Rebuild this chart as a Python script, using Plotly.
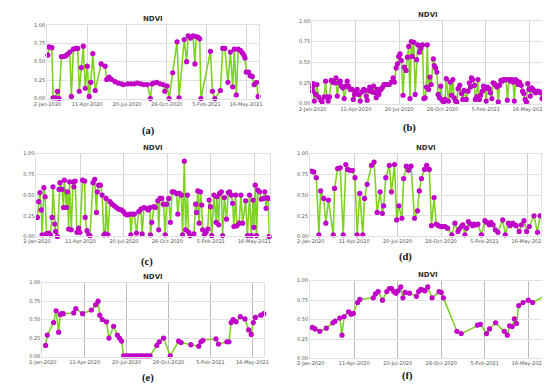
import pandas as pd
import plotly.graph_objects as go

START = "2020-01-02"
TICK_DATES = ["2020-01-02", "2020-04-11", "2020-07-20", "2020-10-28", "2021-02-05", "2021-05-16"]
TICK_TEXT = ["2-Jan-2020", "11-Apr-2020", "20-Jul-2020", "28-Oct-2020", "5-Feb-2021", "16-May-2021"]
Y_TICKS = [0, 0.25, 0.5, 0.75, 1.0]
PANEL_LABELS = ["(a)", "(b)", "(c)", "(d)", "(e)", "(f)"]
TITLE = "NDVI"

# day offsets from 2-Jan-2020 and NDVI values for each panel
a_days = [1, 4, 11, 14, 20, 25, 29, 35, 41, 46, 50, 56, 60, 65, 71, 76, 80, 85, 90, 95, 100, 105, 109, 114, 120,
          135, 145, 149, 155, 161, 170, 178, 186, 191, 202, 210, 218, 226, 234, 242, 251, 259, 263, 267, 275, 283,
          291, 295, 301, 306, 315, 326, 331, 344, 350, 354, 360, 366, 371, 374, 379, 383, 386, 410, 415, 421, 435,
          441, 446, 454, 460, 466, 470, 475, 480, 486, 490, 494, 497, 500, 506, 510, 515, 520, 526, 530]
a_vals = [0.59, 0.70, 0.69, 0.01, 0.01, 0.10, 0.00, 0.57, 0.57, 0.58, 0.60, 0.63, 0.03, 0.67, 0.68, 0.68, 0.10,
          0.42, 0.71, 0.14, 0.44, 0.03, 0.22, 0.61, 0.11, 0.47, 0.44, 0.26, 0.29, 0.26, 0.23, 0.21, 0.20, 0.19,
          0.20, 0.20, 0.20, 0.21, 0.20, 0.19, 0.19, 0.00, 0.20, 0.21, 0.22, 0.20, 0.19, 0.10, 0.17, 0.00, 0.35,
          0.77, 0.01, 0.80, 0.50, 0.85, 0.82, 0.85, 0.47, 0.84, 0.83, 0.81, 0.00, 0.64, 0.10, 0.00, 0.11, 0.68,
          0.68, 0.22, 0.63, 0.16, 0.67, 0.05, 0.67, 0.65, 0.62, 0.59, 0.55, 0.36, 0.36, 0.31, 0.30, 0.19, 0.22, 0.03]

b_days = [0, 0, 1, 4, 7, 10, 14, 19, 22, 27, 30, 33, 36, 39, 43, 47, 51, 54, 57, 61, 64, 67, 70, 73, 77, 80, 83,
          87, 91, 94, 97, 100, 103, 107, 110, 114, 118, 121, 124, 126, 129, 132, 135, 138, 141, 144, 147, 150, 153,
          156, 159, 162, 165, 169, 173, 177, 182, 186, 189, 193, 196, 199, 202, 205, 209, 212, 216, 219, 222, 225,
          228, 230, 234, 237, 240, 243, 247, 250, 254, 257, 260, 263, 265, 268, 271, 274, 279, 281, 284, 287, 290,
          293, 296, 299, 303, 306, 309, 314, 318, 321, 324, 327, 330, 333, 336, 340, 344, 347, 350, 355, 359, 362,
          365, 367, 370, 374, 376, 379, 382, 385, 388, 392, 395, 398, 401, 404, 408, 411, 414, 417, 420, 423, 426,
          429, 432, 435, 438, 441, 444, 447, 450, 454, 457, 460, 463, 466, 469, 472, 475, 478, 482, 485, 488, 491,
          494, 497, 500, 503, 506, 509, 512, 515, 518, 521, 524, 527, 530, 533]
b_vals = [0.15, 0.20, 0.24, 0.03, 0.11, 0.23, 0.08, 0.04, 0.02, 0.08, 0.27, 0.08, 0.03, 0.08, 0.28, 0.26, 0.25,
          0.31, 0.09, 0.25, 0.27, 0.21, 0.19, 0.06, 0.21, 0.27, 0.21, 0.17, 0.17, 0.05, 0.11, 0.15, 0.17, 0.11,
          0.03, 0.14, 0.17, 0.16, 0.09, 0.04, 0.16, 0.20, 0.15, 0.14, 0.21, 0.13, 0.07, 0.17, 0.11, 0.16, 0.18,
          0.20, 0.23, 0.23, 0.23, 0.23, 0.26, 0.31, 0.26, 0.43, 0.48, 0.57, 0.60, 0.52, 0.10, 0.44, 0.40, 0.56,
          0.69, 0.06, 0.75, 0.57, 0.74, 0.11, 0.53, 0.71, 0.62, 0.67, 0.71, 0.06, 0.07, 0.20, 0.71, 0.17, 0.32,
          0.23, 0.54, 0.46, 0.43, 0.38, 0.11, 0.07, 0.21, 0.04, 0.02, 0.05, 0.30, 0.03, 0.26, 0.10, 0.29, 0.07,
          0.03, 0.02, 0.18, 0.22, 0.12, 0.05, 0.16, 0.05, 0.15, 0.25, 0.20, 0.31, 0.29, 0.22, 0.05, 0.08, 0.29,
          0.05, 0.10, 0.15, 0.21, 0.18, 0.03, 0.20, 0.18, 0.13, 0.06, 0.25, 0.24, 0.22, 0.20, 0.02, 0.22, 0.28,
          0.27, 0.29, 0.29, 0.29, 0.04, 0.29, 0.27, 0.29, 0.26, 0.03, 0.29, 0.27, 0.23, 0.26, 0.22, 0.15, 0.12,
          0.05, 0.02, 0.24, 0.17, 0.09, 0.19, 0.17, 0.15, 0.13, 0.14, 0.15, 0.14, 0.13, 0.06, 0.13]

c_days = [1, 4, 7, 10, 12, 16, 19, 22, 27, 31, 35, 37, 41, 43, 47, 51, 53, 58, 61, 63, 68, 70, 73, 75, 79, 83, 85,
          88, 92, 96, 99, 105, 110, 111, 115, 119, 122, 129, 133, 137, 139, 142, 146, 150, 154, 157, 159, 163, 168,
          173, 178, 183, 188, 194, 199, 203, 208, 214, 216, 220, 224, 229, 234, 239, 242, 246, 252, 256, 260, 261,
          264, 269, 272, 278, 280, 283, 287, 291, 295, 298, 303, 307, 311, 315, 321, 324, 328, 332, 335, 339, 342,
          346, 349, 352, 361, 365, 367, 370, 373, 376, 379, 381, 385, 389, 393, 396, 399, 402, 407, 412, 414, 418,
          420, 424, 427, 431, 436, 440, 443, 447, 450, 453, 457, 460, 465, 469, 473, 480, 484, 489, 493, 497, 499,
          502, 505, 508, 512, 516, 521, 524, 527, 529, 532, 534]
c_vals = [0.23, 0.42, 0.53, 0.32, 0.02, 0.59, 0.48, 0.03, 0.04, 0.02, 0.23, 0.60, 0.15, 0.06, 0.00, 0.57, 0.65,
          0.57, 0.35, 0.68, 0.35, 0.54, 0.09, 0.66, 0.08, 0.66, 0.60, 0.67, 0.05, 0.10, 0.05, 0.68, 0.67, 0.23,
          0.07, 0.02, 0.01, 0.65, 0.69, 0.29, 0.54, 0.62, 0.62, 0.50, 0.02, 0.03, 0.46, 0.02, 0.42, 0.39, 0.37,
          0.35, 0.33, 0.32, 0.30, 0.27, 0.26, 0.27, 0.02, 0.27, 0.27, 0.04, 0.30, 0.33, 0.03, 0.35, 0.34, 0.32,
          0.35, 0.02, 0.17, 0.36, 0.35, 0.43, 0.08, 0.46, 0.46, 0.39, 0.02, 0.39, 0.46, 0.17, 0.54, 0.54, 0.52,
          0.27, 0.52, 0.50, 0.02, 0.91, 0.08, 0.50, 0.05, 0.01, 0.03, 0.39, 0.29, 0.55, 0.16, 0.54, 0.38, 0.08,
          0.02, 0.05, 0.09, 0.44, 0.36, 0.01, 0.50, 0.17, 0.48, 0.14, 0.52, 0.54, 0.01, 0.47, 0.21, 0.53, 0.54,
          0.50, 0.40, 0.12, 0.50, 0.13, 0.16, 0.50, 0.16, 0.43, 0.01, 0.50, 0.01, 0.44, 0.11, 0.62, 0.01, 0.56,
          0.54, 0.45, 0.46, 0.54, 0.34, 0.47, 0.46, 0.00]

d_days = [2, 7, 13, 19, 23, 30, 35, 41, 52, 55, 62, 68, 75, 81, 85, 90, 96, 102, 107, 113, 120, 124, 130, 140, 146,
          153, 160, 165, 168, 173, 181, 186, 193, 198, 203, 210, 214, 220, 225, 231, 239, 246, 250, 255, 262, 267,
          273, 278, 284, 289, 294, 300, 305, 309, 315, 325, 332, 339, 342, 347, 350, 355, 359, 363, 368, 373, 376,
          381, 385, 393, 401, 405, 411, 415, 420, 425, 431, 442, 448, 455, 459, 465, 470, 473, 480, 485, 491, 497,
          503, 514, 522, 528]
d_vals = [0.79, 0.78, 0.71, 0.02, 0.55, 0.46, 0.16, 0.44, 0.02, 0.58, 0.82, 0.83, 0.02, 0.87, 0.81, 0.80, 0.80,
          0.71, 0.02, 0.52, 0.02, 0.46, 0.63, 0.86, 0.90, 0.29, 0.54, 0.28, 0.37, 0.71, 0.86, 0.54, 0.87, 0.20,
          0.37, 0.22, 0.70, 0.85, 0.80, 0.85, 0.22, 0.31, 0.55, 0.70, 0.81, 0.86, 0.81, 0.13, 0.47, 0.15, 0.13,
          0.12, 0.12, 0.12, 0.10, 0.02, 0.16, 0.06, 0.09, 0.12, 0.14, 0.02, 0.10, 0.18, 0.15, 0.13, 0.15, 0.14,
          0.15, 0.02, 0.19, 0.17, 0.14, 0.17, 0.14, 0.08, 0.05, 0.20, 0.02, 0.16, 0.13, 0.16, 0.14, 0.13, 0.06,
          0.14, 0.19, 0.06, 0.12, 0.25, 0.05, 0.25]

e_days = [7, 11, 26, 32, 38, 42, 45, 49, 74, 79, 95, 116, 126, 132, 136, 142, 152, 158, 169, 178, 183, 188, 193,
          199, 204, 210, 216, 222, 227, 233, 238, 245, 250, 256, 272, 278, 288, 304, 324, 330, 353, 372, 377, 382,
          413, 419, 439, 444, 449, 454, 461, 471, 482, 491, 497, 502, 507, 520, 527]
e_vals = [0.15, 0.29, 0.46, 0.62, 0.33, 0.57, 0.58, 0.58, 0.59, 0.65, 0.58, 0.63, 0.70, 0.75, 0.56, 0.50, 0.47,
          0.25, 0.41, 0.29, 0.25, 0.21, 0.01, 0.01, 0.01, 0.01, 0.01, 0.01, 0.01, 0.01, 0.01, 0.01, 0.01, 0.01,
          0.15, 0.20, 0.25, 0.01, 0.21, 0.19, 0.16, 0.14, 0.20, 0.22, 0.24, 0.17, 0.20, 0.20, 0.46, 0.50, 0.47,
          0.54, 0.51, 0.36, 0.30, 0.46, 0.53, 0.56, 0.58]

f_days = [4, 10, 21, 36, 51, 56, 67, 72, 77, 87, 93, 98, 108, 113, 144, 149, 155, 165, 175, 181, 186, 191, 196,
          201, 207, 212, 217, 227, 243, 248, 253, 258, 263, 269, 279, 295, 300, 305, 336, 346, 383, 390, 404, 411,
          425, 445, 452, 457, 463, 468, 473, 478, 488, 500, 510, 537]
f_vals = [0.40, 0.38, 0.35, 0.39, 0.46, 0.48, 0.52, 0.30, 0.54, 0.60, 0.57, 0.58, 0.72, 0.76, 0.78, 0.83, 0.86,
          0.75, 0.86, 0.90, 0.90, 0.86, 0.84, 0.87, 0.92, 0.78, 0.85, 0.84, 0.80, 0.86, 0.89, 0.88, 0.87, 0.92,
          0.78, 0.86, 0.85, 0.78, 0.35, 0.32, 0.43, 0.44, 0.32, 0.38, 0.46, 0.35, 0.30, 0.42, 0.41, 0.51, 0.45,
          0.68, 0.72, 0.75, 0.72, 0.80]

SERIES = [(a_days, a_vals), (b_days, b_vals), (c_days, c_vals), (d_days, d_vals), (e_days, e_vals), (f_days, f_vals)]

# layout (pixels in a 550x385 canvas): plot-area left, right, top, bottom
W, H = 550, 385
BOXES = [(27, 246, 14, 89), (301, 540, 10, 94), (16, 257, 145, 229),
         (299, 538, 145, 229), (22, 251, 276, 351), (299, 542, 274, 353)]
LABEL_POS = [(132, 122), (402, 119), (130, 255), (398, 250), (131, 373), (400, 371)]
RANGE_END = ["2021-06-17", "2021-06-18", "2021-06-20", "2021-06-16", "2021-06-12", "2021-06-24"]
VGRID = ["#d4d4d4", "#d4d4d4", "#d4d4d4", "#cfcfcf", "#bdbdbd", "#bdbdbd"]

GREEN = "#7ed321"
MAGENTA = "#c000c8"
HGRID = "#e2e2e2"

fig = go.Figure()
start = pd.Timestamp(START)
layout = dict(width=W, height=H, margin=dict(l=0, r=0, t=0, b=0),
              paper_bgcolor="white", plot_bgcolor="white", showlegend=False,
              font=dict(family="DejaVu Sans", color="#555"))
annotations = []
for i, ((days, vals), (l, r, t, b)) in enumerate(zip(SERIES, BOXES), start=1):
    dates = start + pd.to_timedelta(days, unit="D")
    fig.add_trace(go.Scatter(x=dates, y=vals, mode="lines+markers",
                             line=dict(color=GREEN, width=1.6),
                             marker=dict(color=MAGENTA, size=5.2),
                             xaxis=f"x{i}", yaxis=f"y{i}", cliponaxis=False))
    xd = [l / W, r / W]
    yd = [1 - b / H, 1 - t / H]
    layout[f"xaxis{i}"] = dict(domain=xd, anchor=f"y{i}", type="date",
                               range=["2020-01-01", RANGE_END[i - 1]],
                               tickvals=TICK_DATES, ticktext=TICK_TEXT,
                               tickfont=dict(size=5, color="#555"),
                               showgrid=True, gridcolor=VGRID[i - 1], gridwidth=1.2,
                               showline=True, linecolor="#e0e0e0", mirror=True,
                               zeroline=False, ticks="", ticklen=0)
    layout[f"yaxis{i}"] = dict(domain=yd, anchor=f"x{i}", range=[0, 1],
                               tickvals=Y_TICKS, tickformat=".2f",
                               tickfont=dict(size=5, color="#555"),
                               showgrid=True, gridcolor=HGRID, gridwidth=1,
                               showline=True, linecolor="#e0e0e0", mirror=True,
                               zeroline=False, ticks="")
    annotations.append(dict(text=f"<b>{TITLE}</b>", x=(l + r) / 2 / W, y=1 - t / H,
                            xref="paper", yref="paper", xanchor="center", yanchor="bottom",
                            showarrow=False, font=dict(size=7, color="#333", family="DejaVu Sans")))
    lx, ly = LABEL_POS[i - 1]
    annotations.append(dict(text=f"<b>{PANEL_LABELS[i - 1]}</b>", x=lx / W, y=1 - ly / H,
                            xref="paper", yref="paper", xanchor="center", yanchor="middle",
                            showarrow=False, font=dict(size=10.5, color="#111", family="Liberation Serif")))
layout["annotations"] = annotations
fig.update_layout(**layout)
fig.write_html("out.html")
